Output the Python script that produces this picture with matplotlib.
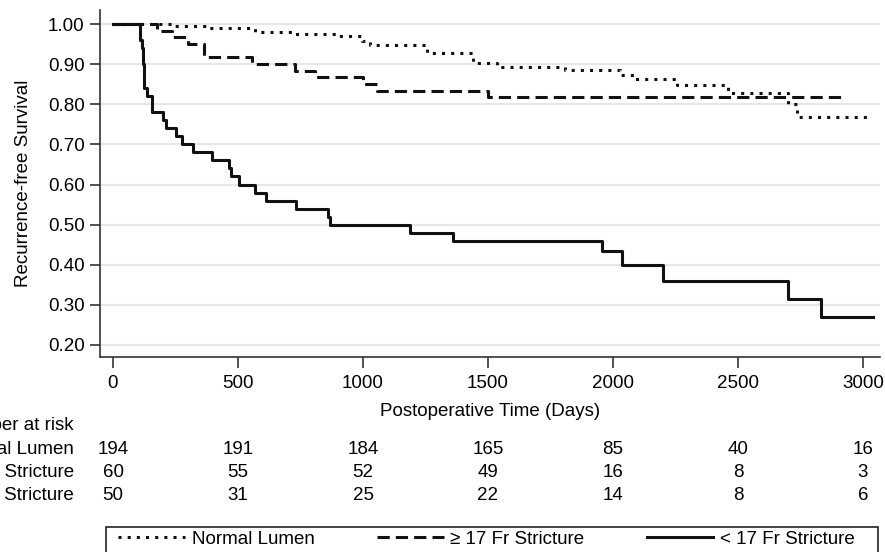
import matplotlib
matplotlib.use("Agg")
import matplotlib.pyplot as plt
import matplotlib.transforms as mtransforms
from matplotlib.patches import Rectangle

plt.rcParams['font.family'] = ['Liberation Sans', 'DejaVu Sans']

# Kaplan-Meier estimates (time in days, survival)
normal_t = [0, 240, 380, 568, 720, 896, 996, 1028, 1255, 1441, 1535, 1808,
            2028, 2088, 2255, 2461, 2701, 2735, 3035]
normal_s = [1.0, 0.995, 0.99, 0.979, 0.974, 0.969, 0.958, 0.948, 0.927, 0.902,
            0.894, 0.885, 0.873, 0.863, 0.848, 0.829, 0.80, 0.769, 0.769]

ge17_t = [0, 175, 235, 300, 365, 555, 728, 808, 1001, 1055, 1501, 2921]
ge17_s = [1.0, 0.983, 0.967, 0.95, 0.917, 0.90, 0.883, 0.867, 0.85, 0.833,
          0.817, 0.817]

lt17_t = [0, 108, 115, 121, 124, 135, 155, 201, 211, 251, 277, 321, 395, 465,
          471, 505, 568, 611, 731, 861, 868, 1188, 1359, 1957, 2035, 2199,
          2699, 2832, 3041]
lt17_s = [1.0, 0.96, 0.94, 0.90, 0.84, 0.82, 0.78, 0.76, 0.74, 0.72, 0.70,
          0.68, 0.66, 0.64, 0.62, 0.60, 0.58, 0.56, 0.54, 0.52, 0.50, 0.48,
          0.46, 0.433, 0.40, 0.36, 0.315, 0.27, 0.27]

# number at risk table
risk_times = [0, 500, 1000, 1500, 2000, 2500, 3000]
risk_labels = ["Normal Lumen", "\u2265 17 Fr Stricture", "< 17 Fr Stricture"]
risk_normal = [194, 191, 184, 165, 85, 40, 16]
risk_ge17 = [60, 55, 52, 49, 16, 8, 3]
risk_lt17 = [50, 31, 25, 22, 14, 8, 6]

yticks = [0.20, 0.30, 0.40, 0.50, 0.60, 0.70, 0.80, 0.90, 1.00]
xticks = [0, 500, 1000, 1500, 2000, 2500, 3000]

W, H = 885, 552
fig = plt.figure(figsize=(W / 100, H / 100), dpi=100)
ax = fig.add_axes([100 / W, 1 - 357 / H, 780 / W, 347 / H])

fs = 13.5
ink = '#111111'

l1, = ax.step(normal_t, normal_s, where='post', color=ink, lw=2.2,
              linestyle=(0, (1, 2.0)), label="Normal Lumen")
l2, = ax.step(ge17_t, ge17_s, where='post', color=ink, lw=2.2,
              linestyle=(0, (4.0, 2.0)), label="\u2265 17 Fr Stricture")
l3, = ax.step(lt17_t, lt17_s, where='post', color=ink, lw=2.2,
              linestyle='-', label="< 17 Fr Stricture")

ax.set_xlim(-52, 3068)
ax.set_ylim(0.170, 1.035)
ax.set_xticks(xticks)
ax.set_yticks(yticks)
ax.set_yticklabels([f"{v:.2f}" for v in yticks])
ax.tick_params(axis='both', labelsize=fs, color='#333333', width=1.2)
ax.tick_params(axis='x', length=8, pad=5)
ax.tick_params(axis='y', length=7, pad=4)

ax.grid(True, axis='y', color='#e6e6e6', lw=1.5)
ax.set_axisbelow(True)
for side in ['top', 'right']:
    ax.spines[side].set_visible(False)
for side in ['left', 'bottom']:
    ax.spines[side].set_color('#333333')
    ax.spines[side].set_linewidth(1.2)

ax.set_xlabel("Postoperative Time (Days)", fontsize=fs)
ax.set_ylabel("Recurrence-free Survival", fontsize=fs)
ax.xaxis.set_label_coords(0.5, -(403 - 357) / 347)
ax.yaxis.set_label_coords(-(100 - 32) / 780, 0.5)

# number at risk rows (the reference image is cropped on the left)
trans = mtransforms.blended_transform_factory(ax.transData, fig.transFigure)
fig.text(74 / W, 1 - 426 / H, "Number at risk", fontsize=fs, ha='right', va='center')
rows = [risk_normal, risk_ge17, risk_lt17]
row_y = [450, 472.5, 495]
for label, counts, yy in zip(risk_labels, rows, row_y):
    fig.text(74 / W, 1 - yy / H, label, fontsize=fs, ha='right', va='center')
    for t, n in zip(risk_times, counts):
        ax.text(t, 1 - yy / H, str(n), transform=trans, fontsize=fs,
                ha='center', va='center', clip_on=False)

# legend without its own frame, plus a box running off the bottom edge
leg = fig.legend(handles=[l1, l2, l3], ncol=3, loc='center left',
                 bbox_to_anchor=(118 / W, 1 - 539 / H),
                 borderaxespad=0, borderpad=0, fontsize=fs,
                 handlelength=3.57, handletextpad=0.37, columnspacing=3.3,
                 frameon=False)
fig.patches.append(Rectangle((106 / W, -0.05), 772 / W, (1 - 527 / H) + 0.05,
                             transform=fig.transFigure, fill=False,
                             ec='#222222', lw=1.2))

fig.savefig("out.png", dpi=100)
